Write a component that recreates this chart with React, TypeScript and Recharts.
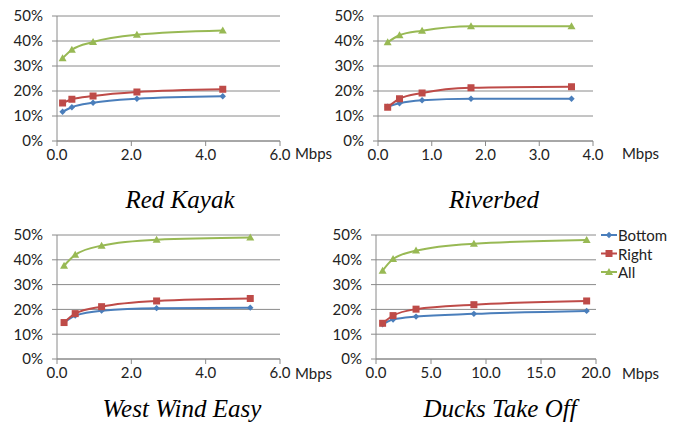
import React from "react";
import { LineChart, Line, XAxis, YAxis, CartesianGrid } from "recharts";

// bitrate (Mbps) and share of savings (%) per clip
const redKayakRate = [0.15, 0.4, 0.97, 2.15, 4.46];
const redKayakBottom = [11.7, 13.5, 15.3, 16.9, 17.9];
const redKayakRight = [15.2, 16.7, 18.0, 19.6, 20.7];
const redKayakAll = [33.1, 36.5, 39.6, 42.5, 44.2];

const riverbedRate = [0.18, 0.4, 0.82, 1.73, 3.6];
const riverbedBottom = [13.7, 15.1, 16.3, 16.9, 16.9];
const riverbedRight = [13.5, 16.9, 19.2, 21.3, 21.7];
const riverbedAll = [39.5, 42.3, 44.1, 45.9, 45.9];

const westWindRate = [0.19, 0.49, 1.2, 2.68, 5.2];
const westWindBottom = [14.6, 17.5, 19.5, 20.5, 20.7];
const westWindRight = [14.7, 18.3, 21.1, 23.4, 24.4];
const westWindAll = [37.6, 42.0, 45.7, 48.1, 49.0];

const ducksRate = [0.6, 1.55, 3.64, 8.9, 19.15];
const ducksBottom = [14.0, 15.9, 17.1, 18.2, 19.4];
const ducksRight = [14.4, 17.5, 20.1, 21.9, 23.4];
const ducksAll = [35.6, 40.3, 43.7, 46.5, 48.0];

const yTicks = [0, 10, 20, 30, 40, 50];
const xTicks6 = [0, 2, 4, 6];
const xTicks4 = [0, 1, 2, 3, 4];
const xTicks20 = [0, 5, 10, 15, 20];

const BLUE = "#4A7EBB";
const RED = "#BE4B48";
const GREEN = "#98B954";
const GRID = "#8a8a8a";
const FONT = "Lato, 'Open Sans', sans-serif";

function Diamond({ cx, cy }: any) {
  if (cx == null || cy == null) return null;
  const r = 3.2;
  return <path d={`M${cx},${cy - r}L${cx + r},${cy}L${cx},${cy + r}L${cx - r},${cy}Z`} fill={BLUE} />;
}

function Square({ cx, cy }: any) {
  if (cx == null || cy == null) return null;
  return <rect x={cx - 3.5} y={cy - 3.5} width={7} height={7} fill={RED} />;
}

function Triangle({ cx, cy }: any) {
  if (cx == null || cy == null) return null;
  return <path d={`M${cx},${cy - 4}L${cx + 4},${cy + 3}L${cx - 4},${cy + 3}Z`} fill={GREEN} />;
}

interface PanelProps {
  left: number;
  top: number;
  width: number;
  height: number;
  margin: { top: number; right: number; bottom: number; left: number };
  yWidth: number;
  xHeight: number;
  rate: number[];
  bottom: number[];
  right: number[];
  all: number[];
  xMax: number;
  xTicks: number[];
}

function Panel({ left, top, width, height, margin, yWidth, xHeight, rate, bottom, right, all, xMax, xTicks }: PanelProps) {
  const data = rate.map((x, i) => ({ x, bottom: bottom[i], right: right[i], all: all[i] }));
  const tick = { fontSize: 15, fill: "#222", fontFamily: FONT };
  return (
    <div style={{ position: "absolute", left, top }}>
      <LineChart width={width} height={height} data={data} margin={margin}>
        <CartesianGrid vertical={false} stroke={GRID} horizontalValues={yTicks} />
        <XAxis
          dataKey="x"
          type="number"
          domain={[0, xMax]}
          ticks={xTicks}
          interval={0}
          tickFormatter={(v: number) => v.toFixed(1)}
          stroke={GRID}
          tickSize={5}
          tickMargin={3}
          tick={tick}
          height={xHeight}
        />
        <YAxis
          type="number"
          domain={[0, 50]}
          ticks={yTicks}
          interval={0}
          tickFormatter={(v: number) => `${v}%`}
          stroke={GRID}
          tickSize={5}
          tickMargin={9}
          tick={tick}
          width={yWidth}
        />
        <Line type="monotone" dataKey="bottom" stroke={BLUE} strokeWidth={2} dot={<Diamond />} isAnimationActive={false} />
        <Line type="monotone" dataKey="right" stroke={RED} strokeWidth={2} dot={<Square />} isAnimationActive={false} />
        <Line type="monotone" dataKey="all" stroke={GREEN} strokeWidth={2} dot={<Triangle />} isAnimationActive={false} />
      </LineChart>
    </div>
  );
}

const legendItems = [
  { name: "Bottom", color: BLUE, Mark: Diamond },
  { name: "Right", color: RED, Mark: Square },
  { name: "All", color: GREEN, Mark: Triangle },
];

export default function App() {
  return (
    <div style={{ position: "absolute", left: 0, top: 0, width: 678, height: 426, background: "#fff", overflow: "hidden" }}>
      <Panel left={0} top={0} width={340} height={170} margin={{ top: 16, right: 60, bottom: 0, left: 0 }} yWidth={57} xHeight={29}
        rate={redKayakRate} bottom={redKayakBottom} right={redKayakRight} all={redKayakAll} xMax={6} xTicks={xTicks6} />
      <Panel left={330} top={0} width={348} height={170} margin={{ top: 16, right: 85, bottom: 0, left: 0 }} yWidth={48} xHeight={29}
        rate={riverbedRate} bottom={riverbedBottom} right={riverbedRight} all={riverbedAll} xMax={4} xTicks={xTicks4} />
      <Panel left={0} top={220} width={340} height={170} margin={{ top: 15, right: 60, bottom: 0, left: 0 }} yWidth={57} xHeight={31}
        rate={westWindRate} bottom={westWindBottom} right={westWindRight} all={westWindAll} xMax={6} xTicks={xTicks6} />
      <Panel left={330} top={220} width={348} height={170} margin={{ top: 15, right: 82, bottom: 0, left: 0 }} yWidth={46} xHeight={31}
        rate={ducksRate} bottom={ducksBottom} right={ducksRight} all={ducksAll} xMax={20} xTicks={xTicks20} />

      <svg width={678} height={426} style={{ position: "absolute", left: 0, top: 0, pointerEvents: "none" }}>
        <g fontFamily={FONT} fontSize={15} fill="#222">
          <text x={295} y={159}>Mbps</text>
          <text x={622} y={159}>Mbps</text>
          <text x={295} y={379}>Mbps</text>
          <text x={622} y={379}>Mbps</text>
        </g>
        <g fontFamily="'Liberation Serif', 'Times New Roman', serif" fontStyle="italic" fontSize={25} textAnchor="middle" fill="#000">
          <text x={180} y={208}>Red Kayak</text>
          <text x={494} y={208}>Riverbed</text>
          <text x={182} y={417}>West Wind Easy</text>
          <text x={500} y={417}>Ducks Take Off</text>
        </g>
        {legendItems.map((it, i) => {
          const cy = 235 + i * 18.5;
          const { Mark } = it;
          return (
            <g key={it.name}>
              <line x1={601} x2={617} y1={cy} y2={cy} stroke={it.color} strokeWidth={2} />
              <Mark cx={609} cy={cy} />
              <text x={618} y={cy} dominantBaseline="central" fontFamily={FONT} fontSize={15} fill="#222">{it.name}</text>
            </g>
          );
        })}
      </svg>
    </div>
  );
}
